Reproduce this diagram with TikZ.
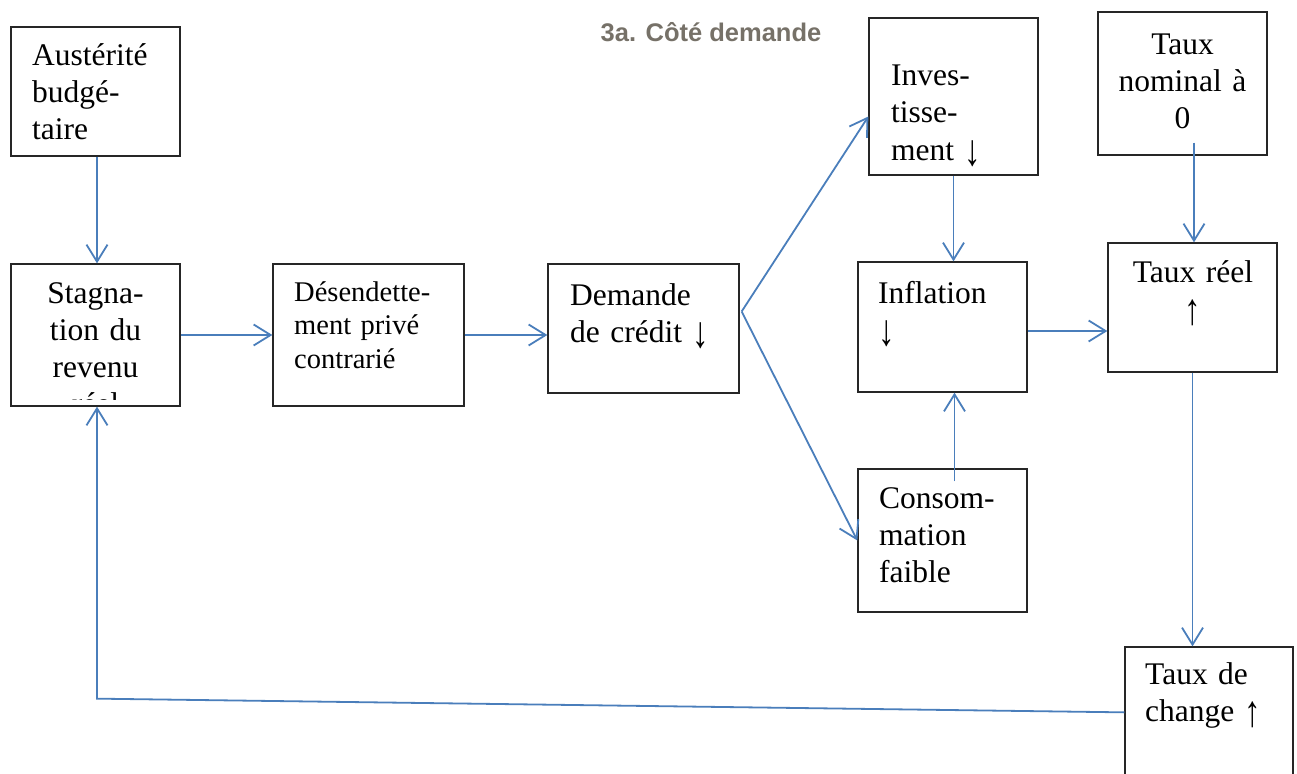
\documentclass[tikz,border=0pt]{standalone}
\usepackage{fontspec}
\usepackage{graphicx}
\setmainfont{Liberation Serif}
\newfontfamily\titlefont{Liberation Sans}
\usetikzlibrary{arrows.meta,calc}
\definecolor{arrowblue}{RGB}{74,126,187}
\definecolor{titlegray}{RGB}{118,113,104}
\newcommand\myup{\raisebox{-5pt}{\scalebox{1.05}[1.4]{↑}}}
\newcommand\mydown{\raisebox{-5pt}{\scalebox{1.05}[1.4]{↓}}}
\begin{document}
\begin{tikzpicture}[x=1pt,y=-1pt,
  box/.style={draw=black!85,line width=1.3pt,inner sep=0pt,fill=none},
  txt/.style={inner sep=0pt,anchor=base west,text width=160pt,align=left,font=\fontsize{31.5}{37}\selectfont},
  ctxt/.style={inner sep=0pt,anchor=base,text width=169pt,align=center,font=\fontsize{31.5}{37}\selectfont},
  conn/.style={draw=arrowblue,line width=1.8pt,-{Straight Barb[length=17pt,width=21pt]}}]
\useasboundingbox (0,0) rectangle (1297,773);
\clip (0,0) rectangle (1297,773);

% boxes
\node[box,minimum width=169pt,minimum height=129pt] (aus) at (95.5,91.5) {};
\node[box,minimum width=169pt,minimum height=142pt] (stag) at (95.5,335) {};
\node[box,minimum width=191pt,minimum height=142pt] (des) at (368.5,335) {};
\node[box,minimum width=191pt,minimum height=129pt] (dem) at (643.5,328.5) {};
\node[box,minimum width=169pt,minimum height=157pt] (inv) at (953.5,96.5) {};
\node[box,minimum width=169pt,minimum height=130pt] (infl) at (942.5,327) {};
\node[box,minimum width=169pt,minimum height=143pt] (cons) at (942.5,540.5) {};
\node[box,minimum width=169pt,minimum height=143pt] (nom) at (1182.5,83.5) {};
\node[box,minimum width=169pt,minimum height=129pt] (reel) at (1192.5,307.5) {};
\node[box,minimum width=168pt,minimum height=143pt] (chg) at (1209,718.5) {};

% title
\node[inner sep=0pt,text=titlegray,font=\titlefont\bfseries\fontsize{25.5}{30}\selectfont] (title) at (711,32) {3a. Côté demande};

% texts
\node[txt] (aust) at (32,66) {Austérité\\budgé-\\taire};
\begin{scope}
  \clip (stag.north west) rectangle ($(stag.south east)+(0,-7)$);
  \node[ctxt] (stagt) at (95.5,303) {Stagna-\\tion du\\revenu\\réel};
\end{scope}
\node[txt,font=\fontsize{28.5}{33.5}\selectfont] (dest) at (294,301) {Désendette-\\ment privé\\contrarié};
\node[txt] (demt) at (570,305) {Demande\\de crédit \mydown};
\node[txt] (invt) at (891,86) {Inves-\\tisse-\\ment \mydown};
\node[txt] (inflt) at (878,303) {Inflation\\\mydown};
\node[txt] (const) at (879,508) {Consom-\\mation\\faible};
\node[ctxt] (nomt) at (1182.5,55) {Taux\\nominal à\\0};
\node[ctxt] (reelt) at (1193,282) {Taux réel\\\myup};
\node[txt] (chgt) at (1145,684) {Taux de\\change \myup};

% connectors
\coordinate (dsplit) at ($(dem.east)+(2,-17)$);
\coordinate (invin) at ($(inv.west)+(0,20)$);
\coordinate (cstart) at ($(cons.north)+(12,13)$);
\coordinate (inflout) at ($(infl.east)+(0,4)$);
\coordinate (nstart) at ($(nom.south)+(11.5,-13)$);
\coordinate (cw) at ($(chg.north west)+(0,66)$);
\coordinate (fb) at ($(stag.south)+(1.5,292)$);

\draw[conn] (aus.south -| fb) -- (stag.north -| fb);
\draw[conn] (stag.east) -- (des.west);
\draw[conn] (des.east) -- (des.east -| dem.west);
\draw[conn] (dsplit) -- (invin);
\draw[conn] (dsplit) -- (cons.west);
\draw[conn] (inv.south) -- (inv.south |- infl.north);
\draw[conn] (cstart) -- (cstart |- infl.south);
\draw[conn] (inflout) -- (inflout -| reel.west);
\draw[conn] (nstart) -- (nstart |- reel.north);
\draw[conn] (reel.south) -- (reel.south |- chg.north);
\draw[conn] (cw) -- (fb) -- (fb |- stag.south);
\end{tikzpicture}
\end{document}
